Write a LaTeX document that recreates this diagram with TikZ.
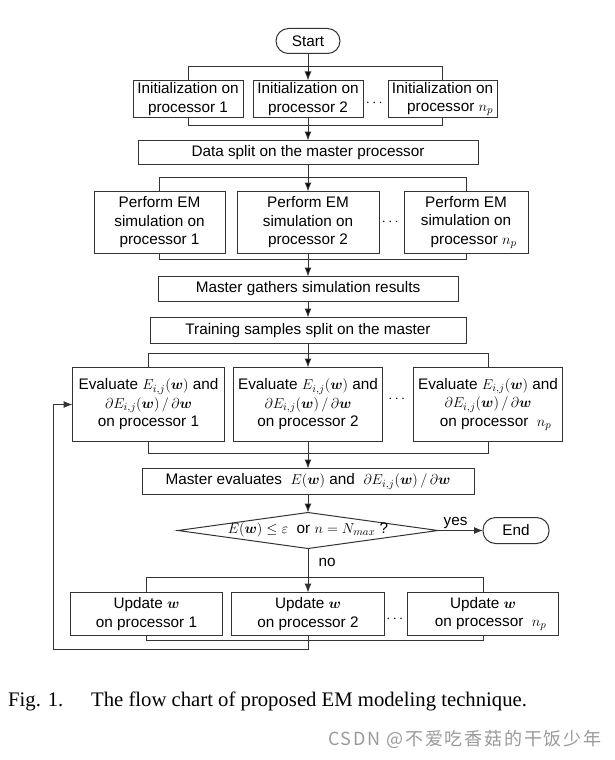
\documentclass[tikz,border=0pt]{standalone}
\usepackage{amsmath}
\usepackage{bm}
\usepackage{fontspec}
\setmainfont{Liberation Serif}
\setsansfont{Liberation Sans}
\newfontfamily\cjkfont[LetterSpace=10]{Noto Sans CJK SC}
\usetikzlibrary{positioning,calc,shapes.geometric,arrows.meta}
\definecolor{lineGray}{HTML}{333333}
\definecolor{markGray}{HTML}{9a9a9a}

\begin{document}
\begin{tikzpicture}[x=1pt, y=1pt,
    font=\sffamily\fontsize{15.3}{18.5}\selectfont,
    box/.style={rectangle, draw=lineGray, line width=1pt, align=center, inner sep=0pt, outer sep=0pt},
    term/.style={box, rounded corners=12.5pt, minimum width=64pt, minimum height=25pt},
    decide/.style={diamond, draw=lineGray, line width=1pt, aspect=7, inner sep=0pt, outer sep=0pt,
        text height=9pt, text depth=3pt, minimum width=260pt, minimum height=36pt},
    flow/.style={draw=lineGray, line width=1pt, -{Latex[length=9pt,width=7pt]}},
    link/.style={draw=lineGray, line width=1pt},
    dots/.style={inner sep=0pt}]
                \useasboundingbox (0,0) rectangle (614,-760);

                % start and initialization
                \node[term] (start) at (308,-41) {Start};
                \node[box, minimum width=110pt, minimum height=37pt] (init2) [below=27pt of start] {Initialization on\\processor 2};
                \node[box, minimum width=110pt, minimum height=37pt] (init1) [left=10pt of init2] {Initialization on\\processor 1};
                \node[box, minimum width=109pt, minimum height=37pt] (init3) [right=25pt of init2] {Initialization on\\\quad processor $n_p$};
                \node[dots] (dots1) at ($(init2.east)!.5!(init3.west)$) [yshift=-4.5pt] {$\cdots$};
                \node[box, minimum width=340pt, minimum height=24pt] (data) [below=23pt of init2] {Data split on the master processor};

                % EM simulation
                \node[box, minimum width=142pt, minimum height=62pt] (perf2) [below=27pt of data] {Perform EM\\simulation on\\processor 2};
                \node[box, minimum width=131pt, minimum height=62pt] (perf1) [left=12pt of perf2] {Perform EM\\simulation on\\processor 1};
                \node[box, minimum width=124pt, minimum height=62pt] (perf3) [right=25pt of perf2] {Perform EM\\simulation on\\\quad processor $n_p$};
                \node[dots] (dots2) at ($(perf2.east)!.5!(perf3.west)$) {$\cdots$};
                \node[box, minimum width=300pt, minimum height=25pt] (gather) [below=23pt of perf2] {Master gathers simulation results};
                \node[box, minimum width=316pt, minimum height=26pt] (train) [below=16pt of gather] {Training samples split on the master};

                % training
                \node[box, minimum width=149pt, minimum height=74pt] (eval2) [below=24pt of train] {Evaluate $E_{i,j}(\bm{w})$\ and\\$\partial E_{i,j}(\bm{w})\,/\,\partial\bm{w}$\\on processor 2};
                \node[box, minimum width=152pt, minimum height=74pt] (eval1) [left=9pt of eval2] {Evaluate $E_{i,j}(\bm{w})$ and\\$\partial E_{i,j}(\bm{w})\,/\,\partial\bm{w}$\\on processor 1};
                \node[box, minimum width=149pt, minimum height=74pt] (eval3) [right=31pt of eval2] {Evaluate $E_{i,j}(\bm{w})$ and\\$\partial E_{i,j}(\bm{w})\,/\,\partial\bm{w}$\\\quad on processor\ \ $n_p$};
                \node[dots] (dots3) at ($(eval2.east)!.5!(eval3.west)$) [yshift=5pt] {$\cdots$};
                \node[box, minimum width=332pt, minimum height=26pt] (meval) [below=27pt of eval2] {Master evaluates\ \ $E(\bm{w})$\ and\ \ $\partial E_{i,j}(\bm{w})\,/\,\partial\bm{w}$};
                \node[decide] (dec) [below=18pt of meval] {$E(\bm{w})\le\varepsilon$\ \ or $n=N_{max}$ ?};
                \node[term, minimum width=66pt, minimum height=26pt] (end) [right=45pt of dec] {End};

                % update
                \node[box, minimum width=153pt, minimum height=43pt] (upd2) [below=44pt of dec] {Update $\bm{w}$\\on processor 2};
                \node[box, minimum width=152pt, minimum height=43pt] (upd1) [left=9pt of upd2] {Update $\bm{w}$\\on processor 1};
                \node[box, minimum width=151pt, minimum height=43pt] (upd3) [right=23pt of upd2] {Update $\bm{w}$\\\quad on processor\ \ $n_p$};
                \node[dots] (dots4) at ($(upd2.east)!.5!(upd3.west)$) [yshift=-5pt] {$\cdots$};

                % bracket points
                \coordinate (initTop) at ([yshift=14pt]init2.north);
                \coordinate (initBot) at ([yshift=-8pt]init2.south);
                \coordinate (perfTop) at ([yshift=14pt]perf2.north);
                \coordinate (perfBot) at ([yshift=-6pt]perf2.south);
                \coordinate (evalTop) at ([yshift=14pt]eval2.north);
                \coordinate (evalBot) at ([yshift=-12pt]eval2.south);
                \coordinate (updTop) at ([yshift=15pt]upd2.north);
                \coordinate (updBot) at ([yshift=-5pt]upd2.south);
                \coordinate (loopBot) at ([yshift=-14pt]upd2.south);
                \coordinate (loopLeft) at ([xshift=-19pt]eval1.west);

                \path[link]
                    (init1.north) |- (initTop) -| (init3.north)
                    (init1.south) |- (initBot) -| (init3.south)
                    (perf1.north) |- (perfTop) -| (perf3.north)
                    (perf1.south) |- (perfBot) -| (perf3.south)
                    (eval1.north) |- (evalTop) -| (eval3.north)
                    (eval1.south) |- (evalBot) -| (eval3.south)
                    (upd1.north) |- (updTop) -| (upd3.north)
                    (upd1.south) |- (updBot) -| (upd3.south)
                ;

                \path[flow]
                    (start) edge (init2)
                    (init2) edge (data)
                    (data) edge (perf2)
                    (perf2) edge (gather)
                    (gather) edge (train)
                    (train) edge (eval2)
                    (eval2) edge (meval)
                    (meval) edge (dec)
                ;
                \draw[flow] (dec.east) -- node[above, pos=0.39, inner sep=1pt] (yesLbl) {yes} (end);
                \draw[flow] (dec.south) -- node[right=9pt, pos=0.32, inner sep=1pt] (noLbl) {no} (upd2);
                \draw[flow] (upd2.south) -- (loopBot) -| (loopLeft) -- (eval1.west);

                % caption
                \node[font=\rmfamily\fontsize{20.7}{24}\selectfont, anchor=base west, inner sep=0pt] (capNum) at (8,-706) {Fig. 1.};
                \node[font=\rmfamily\fontsize{20.7}{24}\selectfont, anchor=base west, inner sep=0pt] (capText) at (91,-706) {The flow chart of proposed EM modeling technique.};
                \node[font=\cjkfont\fontsize{18}{20}\selectfont, text=markGray, anchor=base west, inner sep=0pt] (mark) at (328,-745) {CSDN @不爱吃香菇的干饭少年};
            \end{tikzpicture}
\end{document}
